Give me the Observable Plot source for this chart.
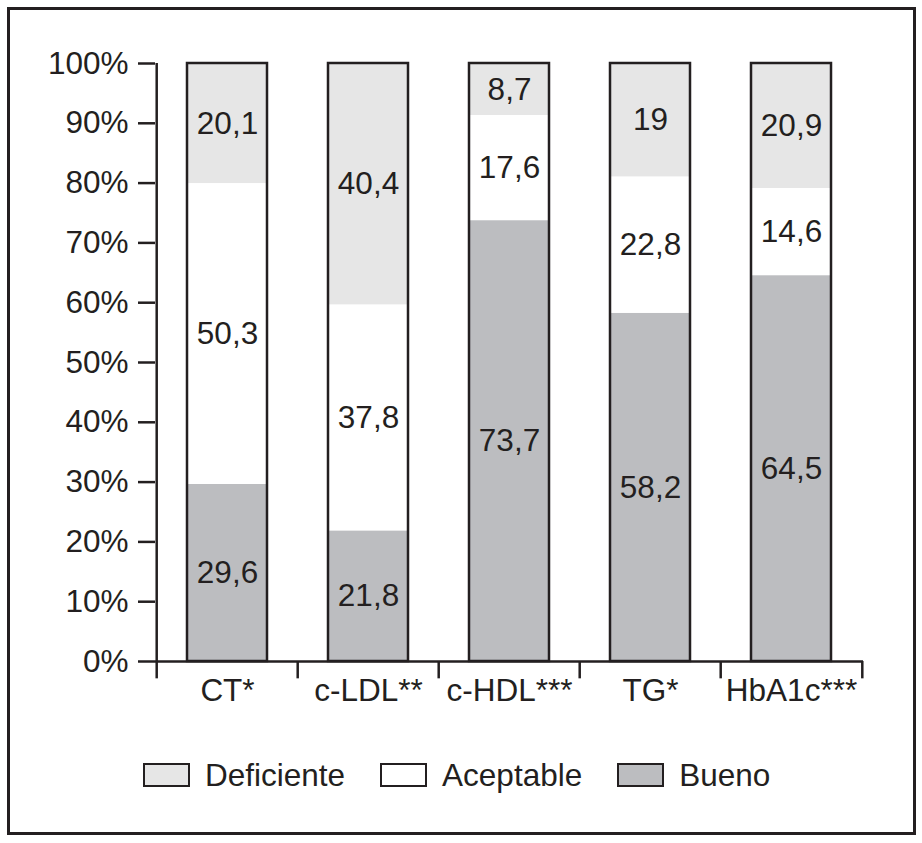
<!DOCTYPE html>
<html>
<head>
<meta charset="utf-8">
<script src="https://cdn.jsdelivr.net/npm/d3@7"></script>
<script src="https://cdn.jsdelivr.net/npm/@observablehq/plot@0.6"></script>
<style>
  html, body { margin: 0; padding: 0; background: #fff; }
  body { width: 922px; height: 843px; position: relative; overflow: hidden;
         font-family: "Liberation Sans", Arial, Helvetica, sans-serif; color: #231f20; }
  #frame { position: absolute; left: 7px; top: 7px; width: 909px; height: 828px;
           border: 3.5px solid #231f20; box-sizing: border-box; }
  #chart { position: absolute; left: 0; top: 0; }
  #legend { position: absolute; left: 143px; top: 757px; display: flex; align-items: center;
            font-size: 31.5px; line-height: 36px; white-space: nowrap; }
  .item { display: flex; align-items: center; margin-right: 35px; }
  .sw { width: 43px; height: 20px; border: 2px solid #231f20; margin-right: 15px; box-sizing: content-box; }
</style>
</head>
<body>
<div id="frame"></div>
<div id="chart"></div>
<div id="legend"></div>
<script>
// ---- data ----
const categorias = ["CT*", "c-LDL**", "c-HDL***", "TG*", "HbA1c***"];
const estados = ["Deficiente", "Aceptable", "Bueno"];
const deficiente = [20.1, 40.4, 8.7, 19, 20.9];
const aceptable = [50.3, 37.8, 17.6, 22.8, 14.6];
const bueno = [29.6, 21.8, 73.7, 58.2, 64.5];
const yTicks = [0, 10, 20, 30, 40, 50, 60, 70, 80, 90, 100];
const colores = ["#e6e6e6", "#ffffff", "#bcbdc0"];

// ---- table built from arrays ----
const series = {Deficiente: deficiente, Aceptable: aceptable, Bueno: bueno};
const tabla = [];
categorias.forEach((c, i) => {
  estados.forEach(e => tabla.push({categoria: c, estado: e, valor: series[e][i]}));
});
const totales = categorias.map((c, i) => ({categoria: c, total: deficiente[i] + aceptable[i] + bueno[i]}));
const orden = ["Bueno", "Aceptable", "Deficiente"];
const fmt = v => String(v).replace(".", ",");

// ---- layout ----
const W = 922, H = 720;
const mL = 155, mR = 59, mT = 63, mB = H - 661;
const step = (W - mL - mR) / categorias.length;
const ink = "#231f20";
const font = "'Liberation Sans', Arial, Helvetica, sans-serif";
const fs = 31.5;

const plot = Plot.plot({
  width: W, height: H,
  marginLeft: mL, marginRight: mR, marginTop: mT, marginBottom: mB,
  style: {fontFamily: font, fontSize: fs + "px", color: ink, background: "transparent", overflow: "visible"},
  x: {domain: categorias, paddingInner: 0.435, paddingOuter: 0.2175, label: null},
  y: {domain: [0, 100], label: null},
  color: {domain: estados, range: colores},
  marks: [
    Plot.barY(tabla, Plot.stackY({x: "categoria", y: "valor", z: "estado", fill: "estado", order: orden})),
    Plot.barY(totales, {x: "categoria", y: "total", fill: "none", stroke: ink, strokeWidth: 2.5}),
    Plot.text(tabla, Plot.stackY({x: "categoria", y: "valor", z: "estado", order: orden,
      text: d => fmt(d.valor), fontSize: fs, fill: ink})),
    // y axis line
    Plot.ruleX([categorias[0]], {x: d => d, dx: -step / 2, y1: 0, y2: 100, stroke: ink, strokeWidth: 2.5}),
    // x baseline
    Plot.ruleY([0], {stroke: ink, strokeWidth: 2.5}),
    // category boundary ticks
    Plot.ruleX(categorias, {x: d => d, dx: -step / 2, y1: 0, y2: -2.9, stroke: ink, strokeWidth: 2.5}),
    Plot.ruleX([categorias[categorias.length - 1]], {x: d => d, dx: step / 2, y1: 0, y2: -2.9, stroke: ink, strokeWidth: 2.5}),
    Plot.axisY({ticks: yTicks, tickFormat: d => d + "%", tickSize: 17, tickPadding: 10, fontSize: fs, strokeWidth: 2.5, label: null}),
    Plot.axisX({tickSize: 0, tickPadding: 17, fontSize: fs, label: null})
  ]
});
document.getElementById("chart").appendChild(plot);

// ---- legend ----
const leg = d3.select("#legend");
estados.forEach((e, i) => {
  const it = leg.append("div").attr("class", "item");
  it.append("div").attr("class", "sw").style("background", colores[i]);
  it.append("span").text(e);
});
</script>
</body>
</html>
